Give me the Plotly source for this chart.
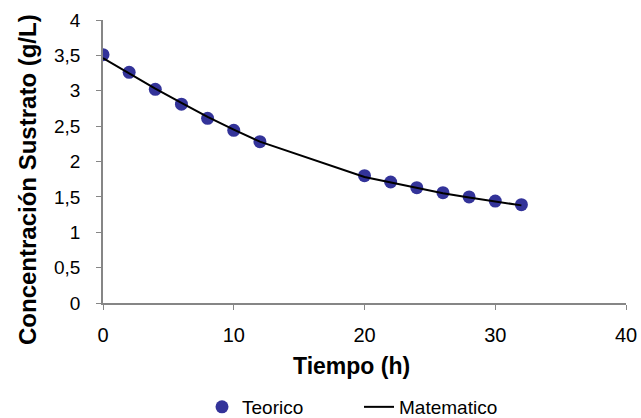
import plotly.graph_objects as go

tiempo = [0, 2, 4, 6, 8, 10, 12, 20, 22, 24, 26, 28, 30, 32]
teorico = [3.51, 3.26, 3.02, 2.81, 2.61, 2.44, 2.28, 1.80, 1.71, 1.63, 1.56, 1.50, 1.44, 1.39]
matematico = [3.46, 3.24, 3.03, 2.83, 2.63, 2.45, 2.28, 1.78, 1.70, 1.62, 1.55, 1.49, 1.43, 1.38]

x_title = "Tiempo (h)"
y_title = "Concentración Sustrato (g/L)"

W, H = 641, 418
L, T = 103, 20
R = W - 626
B = H - 303

fig = go.Figure()
fig.add_trace(go.Scatter(x=tiempo, y=teorico, mode="markers", name="Teorico",
                         marker=dict(color="#333399", size=13, line=dict(width=0))))
fig.add_trace(go.Scatter(x=tiempo, y=matematico, mode="lines", name="Matematico",
                         line=dict(color="black", width=2)))

axis_common = dict(showgrid=False, zeroline=False, showline=True, linecolor="#868686",
                   linewidth=1.5, ticks="outside", ticklen=5, tickcolor="#868686",
                   automargin=False)

ph = H - T - B
pw = W - L - R
def py(pix):
    return (H - B - pix) / ph
def px(pix):
    return (pix - L) / pw

fig.update_layout(
    width=W, height=H,
    margin=dict(l=L, r=R, t=T, b=B, autoexpand=False),
    plot_bgcolor="white", paper_bgcolor="white",
    separators=", ",
    font=dict(family="Liberation Sans, Arial", color="black"),
    xaxis=dict(range=[0, 40], tickvals=[0, 10, 20, 30, 40], ticklabelstandoff=8,
               tickfont=dict(size=20, color="black"), **axis_common),
    yaxis=dict(range=[0, 4], dtick=0.5, tickformat=".1~f", ticklabelstandoff=12,
               tickfont=dict(size=19, color="black"), **axis_common),
    legend=dict(orientation="h", x=px(202), xanchor="left", y=py(407), yanchor="middle",
                font=dict(size=19), entrywidth=112, tracegroupgap=0),
    showlegend=True,
    annotations=[
        dict(text="<b>" + x_title + "</b>", xref="paper", yref="paper",
             x=px(351), y=py(366), xanchor="center", yanchor="middle",
             showarrow=False, font=dict(size=23)),
        dict(text="<b>" + y_title + "</b>", xref="paper", yref="paper",
             x=px(27), y=py(180), xanchor="center", yanchor="middle",
             textangle=-90, showarrow=False, font=dict(size=24)),
    ],
)

fig.write_html("out.html",
               config={"displayModeBar": False},
               post_script="document.body.style.margin='0';document.body.style.overflow='hidden';")
